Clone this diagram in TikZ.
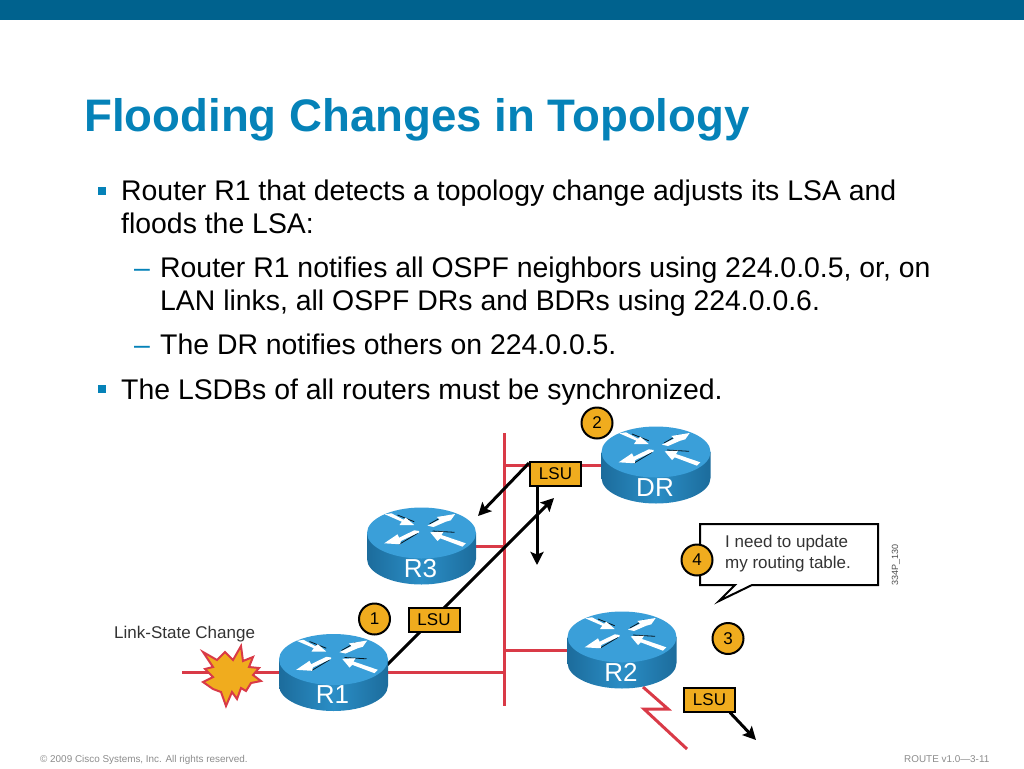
\documentclass[tikz,border=0pt]{standalone}
\usepackage{fontspec}
\setmainfont{Liberation Sans}
\usetikzlibrary{arrows.meta}
\definecolor{bandblue}{HTML}{00628E}
\definecolor{titleblue}{HTML}{0582B8}
\definecolor{lsuorange}{HTML}{F0AC1E}
\definecolor{wirered}{HTML}{D93A47}
\definecolor{routertop}{HTML}{3A9FD9}
\definecolor{routerside}{HTML}{2B8EC6}
\definecolor{routeredge}{HTML}{1C6C9C}

\begin{document}
\begin{tikzpicture}
[x=1pt,y=-1pt,
 wire/.style={draw=wirered,line width=3pt},
 be/.style={draw=black,line width=3pt,arrows={-Stealth[length=13pt,width=13pt,inset=2.5pt]}},
 bodytext/.style={anchor=base west,inner sep=0pt,align=left,font=\fontsize{28.4}{32.5}\selectfont},
 dashtext/.style={anchor=base west,inner sep=0pt,text=titleblue,font=\fontsize{28.4}{32.5}\selectfont},
 bulletbox/.style={fill=titleblue,inner sep=0pt,minimum size=8pt},
 footer/.style={anchor=base west,inner sep=0pt,text=black!45,font=\fontsize{9.9}{12}\selectfont},
 lsubox/.style={draw=black,line width=2pt,fill=lsuorange,minimum width=51pt,minimum height=24pt,inner sep=0pt,font=\fontsize{17}{20}\selectfont},
 stepdot/.style={circle,draw=black,line width=2pt,fill=lsuorange,minimum size=31pt,inner sep=0pt,font=\fontsize{17}{20}\selectfont},
 routerbox/.style={minimum width=109pt,minimum height=77pt,inner sep=0pt},
 routerlabel/.style={text=white,inner sep=0pt,font=\fontsize{26}{28}\selectfont},
 rshade/.style={draw=black!80!routeredge,line width=0.8pt}]
\useasboundingbox (0,0) rectangle (1024,768);

\fill[bandblue] (0,0) rectangle (1024,20);
\node[anchor=base west,inner sep=0pt,text=titleblue,font=\fontsize{45.6}{50}\selectfont\bfseries] (title) at (84,131) {Flooding Changes in Topology};

% bullets
\node[bulletbox] (bulletA) at (102,191) {};
\node[bodytext] (textA) at (121,233) {Router R1 that detects a topology change adjusts its LSA and\\floods the LSA:};
\node[dashtext] (dashA) at (134,277) {--};
\node[bodytext] (textB) at (160,310) {Router R1 notifies all OSPF neighbors using 224.0.0.5, or, on\\LAN links, all OSPF DRs and BDRs using 224.0.0.6.};
\node[dashtext] (dashB) at (134,354) {--};
\node[bodytext] (textC) at (160,354) {The DR notifies others on 224.0.0.5.};
\node[bulletbox] (bulletB) at (102,389) {};
\node[bodytext] (textD) at (121,399) {The LSDBs of all routers must be synchronized.};

\node[footer] (copyright) at (40,762) {© 2009 Cisco Systems, Inc. All rights reserved.};
\node[footer] (route) at (904,762) {ROUTE v1.0—3-11};

\coordinate (lantop) at (504,433);
\coordinate (lanbot) at (504,706);
\coordinate (linkend) at (182,672.5);
\coordinate (r1up) at (386,666);
\coordinate (tipup) at (554,498);
\coordinate (tipleft) at (478,516);
\coordinate (tipdown) at (537,565);
\coordinate (tipout) at (756,740);
\coordinate (zigA) at (643,687);
\coordinate (zigB) at (668,709);
\coordinate (zigC) at (644,709);
\coordinate (zigD) at (687,749);

\node[routerbox] (r1) at (333.5,672.5) {};
\node[routerbox] (r2) at (622,650) {};
\node[routerbox] (r3) at (421.5,546) {};
\node[routerbox] (dr) at (656,465) {};

\node[lsubox] (lsuA) at (555.5,474) {LSU};
\node[lsubox] (lsuB) at (434,619.5) {LSU};
\node[lsubox] (lsuC) at (709.5,699.5) {LSU};

% red links
\draw[wire] (lantop) -- (lanbot);
\draw[wire] (linkend) -- (r1);
\draw[wire] (r1.east) -- (r1.east -| lantop);
\draw[wire] (r3.east) -- (r3.east -| lantop);
\draw[wire] (r2.west) -- (r2.west -| lantop);
\draw[wire] (dr.west) -- (dr.west -| lantop);
\draw[wire] (zigA) -- (zigB) -- (zigC) -- (zigD);

% flooding
\draw[be] (r1up) -- (tipup);
\draw[be] (lsuA.north west) ++(0,2) -- (tipleft);
\draw[be] (lsuA.south -| tipdown) -- (tipdown);
\draw[be] (lsuC.south east) ++(-6,0) -- (tipout);

\foreach \n/\x/\y/\t in {r1/333.5/672.5/R1,r2/622/650/R2,r3/421.5/546/R3,dr/656/465/DR}
{
  \begin{scope}[shift={(\x,\y)}]
    \shade[left color=routeredge,right color=routeredge,middle color=routerside]
      (-54.5,-13) -- (-54.5,13) .. controls (-54.5,27) and (-30,38.5) .. (0,38.5)
      .. controls (30,38.5) and (54.5,27) .. (54.5,13) -- (54.5,-13) -- cycle;
    \fill[routertop] (0,-13) ellipse [x radius=54.5pt,y radius=25.5pt];
    \draw[rshade] (-24,-31) -- (-7.3,-24.3);
    \draw[rshade] (8,-22) -- (22,-30);
    \draw[rshade] (-22.3,-1.7) -- (-4,-12.7);
    \draw[rshade] (11,-15) -- (33,-13.7);
    \fill[white] (-36.7,-31.7) -- (-30,-32.7) -- (-18,-26.3) -- (-15.7,-28.3) -- (-7.3,-21)
      -- (-22,-21) -- (-19.7,-24.3) -- cycle;
    \fill[white] (6,-20.3) -- (18,-26.3) -- (15.3,-29) -- (33.7,-32) -- (29.3,-25.7)
      -- (24.3,-24.3) -- (12,-19) -- cycle;
    \fill[white] (-2.3,-15) -- (-7.3,-15.7) -- (-22.3,-8.3) -- (-24,-11.7) -- (-37.3,-2.7)
      -- (-21.3,-1.7) -- (-20.7,-5) -- (-2.3,-13.7) -- cycle;
    \fill[white] (8.7,-13.7) -- (22,-14.3) -- (20,-11) -- (44.3,-2.7) -- (41,0.7)
      -- (18.7,-7.7) -- (16,-5) -- cycle;
    \node[routerlabel] (\n t) at (-1,22.5) {\t};
  \end{scope}
}

\node[lsubox] at (lsuA) {LSU};
\node[lsubox] at (lsuB) {LSU};
\node[lsubox] at (lsuC) {LSU};

% link state burst
\filldraw[draw=wirered,fill=lsuorange,line width=2pt,line join=miter]
  (203,652) -- (217,660) -- (225,652) -- (233,660) -- (241,646) -- (243,661)
  -- (253,657) -- (249,667) -- (259,668) -- (253,675) -- (261,681) -- (251,683)
  -- (246,691) -- (241,688) -- (237,699) -- (232,692) -- (226,706) -- (221,692)
  -- (213,689) -- (203,682) -- (213,677) -- (205,669) -- (213,667) -- cycle;
\node[anchor=base west,inner sep=0pt,text=black!80,font=\fontsize{17}{20}\selectfont] (linktext) at (114,638) {Link-State Change};

% callout
\filldraw[draw=black,fill=white,line width=2pt] (700,524) -- (878,524) -- (878,585)
  -- (752,585) -- (719,601) -- (735,585) -- (700,585) -- cycle;
\node[anchor=north west,inner sep=0pt,align=left,text=black!80,font=\fontsize{17}{20.5}\selectfont] (calltext) at (725,535) {I need to update\\my routing table.};
\node[rotate=90,anchor=base west,inner sep=0pt,text=black!70,font=\fontsize{9}{10}\selectfont] (figid) at (898,586) {334P\_130};

\foreach \n/\x/\y/\t in {stepA/374.5/619/1,stepB/597/423/2,stepC/728/638.5/3,stepD/697/560/4}
  \node[stepdot] (\n) at (\x,\y) {\t};

\end{tikzpicture}
\end{document}
